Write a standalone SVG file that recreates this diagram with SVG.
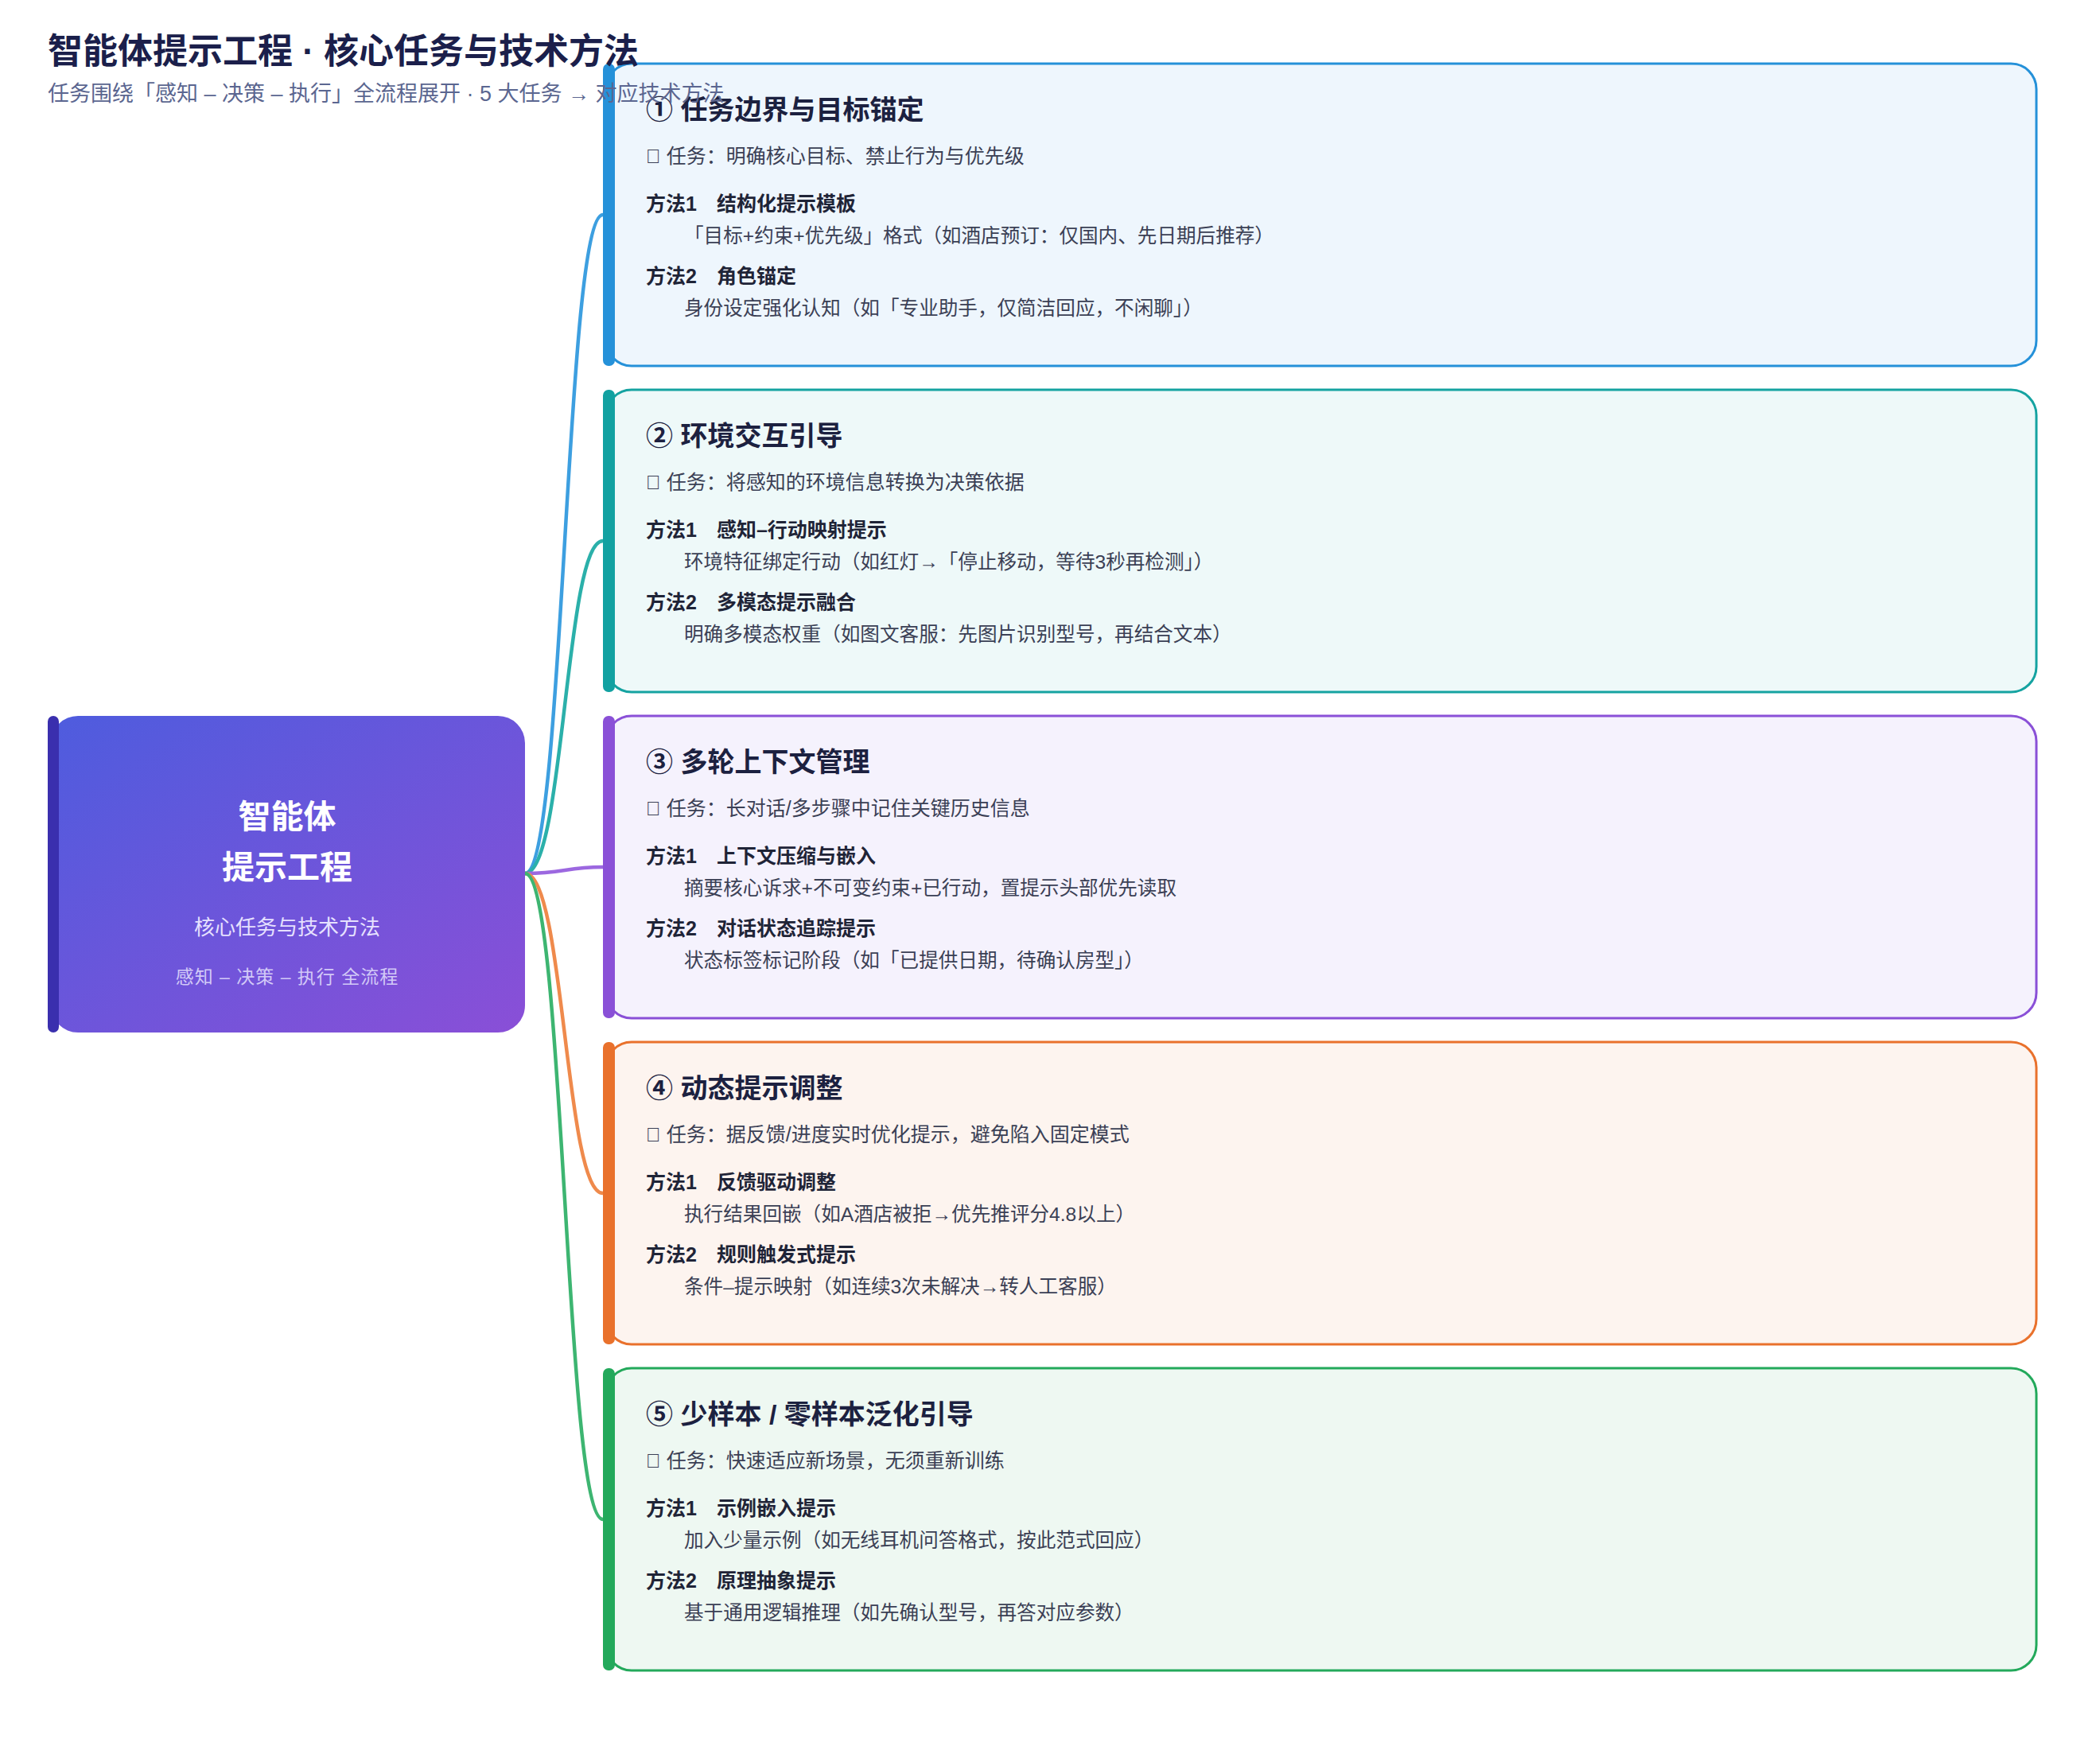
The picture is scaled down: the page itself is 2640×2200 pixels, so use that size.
<svg xmlns="http://www.w3.org/2000/svg" width="2640" height="2200" viewBox="0 0 2640 2200">
<defs>
<linearGradient id="cg" x1="0" y1="0" x2="1" y2="1">
<stop offset="0" stop-color="#4e5cde"/>
<stop offset="1" stop-color="#8a4fd7"/>
</linearGradient>
<style>
text{font-family:"Liberation Sans","Noto Sans CJK SC",sans-serif;}
.h1{font-size:44px;font-weight:700;fill:#1b1f4b;}
.sub{font-size:27px;fill:#5b6690;}
.ct1{font-size:41px;font-weight:700;fill:#ffffff;text-anchor:middle;}
.ct2{font-size:26px;fill:#e6e1ff;text-anchor:middle;}
.ct3{font-size:23px;fill:#d2c9f7;text-anchor:middle;letter-spacing:1px;}
.bt{font-size:34px;font-weight:700;fill:#1c2140;}
.task{font-size:25px;fill:#3b4055;}
.m{font-size:25px;font-weight:700;fill:#1f2437;}
.d{font-size:24.6px;fill:#3b4055;}
.box{stroke-width:3;}
.conn{fill:none;stroke-width:4.5;stroke-linecap:round;}
</style>
</defs>
<rect width="2640" height="2200" fill="#ffffff"/>
<g id="connectors">
<path class="conn" stroke="#3d9fe0" d="M660 1098 C710 1098 710 270 758 270"/>
<path class="conn" stroke="#2bb0aa" d="M660 1098 C710 1098 710 680 758 680"/>
<path class="conn" stroke="#9c68e0" stroke-width="4" d="M660 1098 C710 1098 710 1090 758 1090"/>
<path class="conn" stroke="#ef8a4c" d="M660 1098 C710 1098 710 1500 758 1500"/>
<path class="conn" stroke="#3db571" d="M660 1098 C710 1098 710 1910 758 1910"/>
</g>
<g id="center">
<rect x="64" y="900" width="596" height="398" rx="34" fill="url(#cg)"/>
<rect x="60" y="900" width="14" height="398" rx="7" fill="#3a2fae"/>
<text class="ct1" x="361" y="1041">智能体</text>
<text class="ct1" x="361" y="1105">提示工程</text>
<text class="ct2" x="361" y="1175">核心任务与技术方法</text>
<text class="ct3" x="361" y="1236">感知 – 决策 – 执行 全流程</text>
</g>
<g id="task1">
<rect class="box" x="762" y="80" width="1798" height="380" rx="32" fill="#eef6fd" stroke="#2591d9"/>
<rect x="758" y="80" width="15" height="380" rx="7" fill="#2591d9"/>
<text class="bt" x="812" y="150">① 任务边界与目标锚定</text>
<text class="task" x="812" y="205">&#x10FFFD; 任务：明确核心目标、禁止行为与优先级</text>
<text class="m" x="812" y="265">方法1　结构化提示模板</text>
<text class="d" x="860" y="305">「目标+约束+优先级」格式（如酒店预订：仅国内、先日期后推荐）</text>
<text class="m" x="812" y="356">方法2　角色锚定</text>
<text class="d" x="860" y="396">身份设定强化认知（如「专业助手，仅简洁回应，不闲聊」）</text>
</g>
<g id="task2">
<rect class="box" x="762" y="490" width="1798" height="380" rx="32" fill="#eef9f9" stroke="#15a3a1"/>
<rect x="758" y="490" width="15" height="380" rx="7" fill="#12a1a1"/>
<text class="bt" x="812" y="560">② 环境交互引导</text>
<text class="task" x="812" y="615">&#x10FFFD; 任务：将感知的环境信息转换为决策依据</text>
<text class="m" x="812" y="675">方法1　感知–行动映射提示</text>
<text class="d" x="860" y="715">环境特征绑定行动（如红灯→「停止移动，等待3秒再检测」）</text>
<text class="m" x="812" y="766">方法2　多模态提示融合</text>
<text class="d" x="860" y="806">明确多模态权重（如图文客服：先图片识别型号，再结合文本）</text>
</g>
<g id="task3">
<rect class="box" x="762" y="900" width="1798" height="380" rx="32" fill="#f5f2fd" stroke="#8a50d7"/>
<rect x="758" y="900" width="15" height="380" rx="7" fill="#8a50d7"/>
<text class="bt" x="812" y="970">③ 多轮上下文管理</text>
<text class="task" x="812" y="1025">&#x10FFFD; 任务：长对话/多步骤中记住关键历史信息</text>
<text class="m" x="812" y="1085">方法1　上下文压缩与嵌入</text>
<text class="d" x="860" y="1125">摘要核心诉求+不可变约束+已行动，置提示头部优先读取</text>
<text class="m" x="812" y="1176">方法2　对话状态追踪提示</text>
<text class="d" x="860" y="1216">状态标签标记阶段（如「已提供日期，待确认房型」）</text>
</g>
<g id="task4">
<rect class="box" x="762" y="1310" width="1798" height="380" rx="32" fill="#fdf4ef" stroke="#e9712c"/>
<rect x="758" y="1310" width="15" height="380" rx="7" fill="#e9712c"/>
<text class="bt" x="812" y="1380">④ 动态提示调整</text>
<text class="task" x="812" y="1435">&#x10FFFD; 任务：据反馈/进度实时优化提示，避免陷入固定模式</text>
<text class="m" x="812" y="1495">方法1　反馈驱动调整</text>
<text class="d" x="860" y="1535">执行结果回嵌（如A酒店被拒→优先推评分4.8以上）</text>
<text class="m" x="812" y="1586">方法2　规则触发式提示</text>
<text class="d" x="860" y="1626">条件–提示映射（如连续3次未解决→转人工客服）</text>
</g>
<g id="task5">
<rect class="box" x="762" y="1720" width="1798" height="380" rx="32" fill="#eef8f2" stroke="#23a95b"/>
<rect x="758" y="1720" width="15" height="380" rx="7" fill="#23a95b"/>
<text class="bt" x="812" y="1790">⑤ 少样本 / 零样本泛化引导</text>
<text class="task" x="812" y="1845">&#x10FFFD; 任务：快速适应新场景，无须重新训练</text>
<text class="m" x="812" y="1905">方法1　示例嵌入提示</text>
<text class="d" x="860" y="1945">加入少量示例（如无线耳机问答格式，按此范式回应）</text>
<text class="m" x="812" y="1996">方法2　原理抽象提示</text>
<text class="d" x="860" y="2036">基于通用逻辑推理（如先确认型号，再答对应参数）</text>
</g>
<g id="header">
<text class="h1" x="60" y="80">智能体提示工程 · 核心任务与技术方法</text>
<text class="sub" x="60" y="127">任务围绕「感知 – 决策 – 执行」全流程展开 · 5 大任务 → 对应技术方法</text>
</g>
</svg>
